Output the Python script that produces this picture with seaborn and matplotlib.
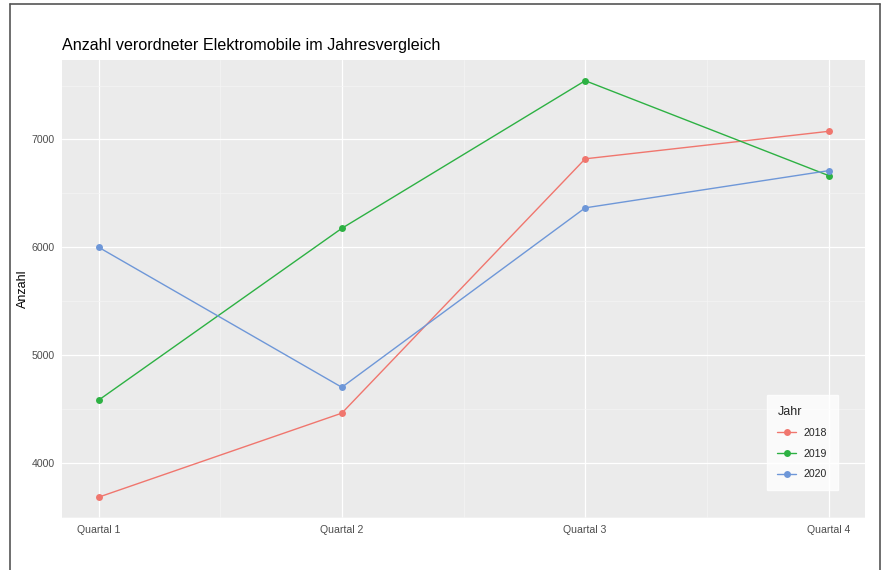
import matplotlib
matplotlib.use("Agg")
import matplotlib.pyplot as plt
import seaborn as sns
import pandas as pd
from matplotlib.lines import Line2D
from matplotlib.ticker import MultipleLocator

# data
quartale = ["Quartal 1", "Quartal 2", "Quartal 3", "Quartal 4"]
jahre = ["2018", "2019", "2020"]
werte_2018 = [3680, 4460, 6820, 7075]
werte_2019 = [4580, 6175, 7545, 6665]
werte_2020 = [6000, 4700, 6365, 6710]
farben = ["#F0766E", "#2DB143", "#6E97D8"]

df = pd.DataFrame({
    "Quartal": quartale * 3,
    "Jahr": [j for j in jahre for _ in quartale],
    "Anzahl": werte_2018 + werte_2019 + werte_2020,
})

sns.set_theme(style="darkgrid", rc={"axes.facecolor": "#EBEBEB", "grid.color": "white"})
plt.rcParams["font.family"] = ["Liberation Sans", "DejaVu Sans"]

fig = plt.figure(figsize=(8.83, 5.70), dpi=100)
ax = fig.add_axes([62 / 883, 1 - 518 / 570, 803 / 883, 458 / 570])

sns.lineplot(data=df, x="Quartal", y="Anzahl", hue="Jahr", palette=farben,
             marker="o", markersize=5, markeredgewidth=0, linewidth=1.0,
             sort=False, ax=ax)

ax.set_xlim(-0.15, 3.15)
ax.set_ylim(3487, 7737)
ax.yaxis.set_major_locator(MultipleLocator(1000))
ax.yaxis.set_minor_locator(MultipleLocator(500))
ax.xaxis.set_minor_locator(MultipleLocator(0.5))
ax.grid(which="major", color="white", linewidth=0.9)
ax.grid(which="minor", color="#F5F5F5", linewidth=0.5)
for s in ax.spines.values():
    s.set_visible(False)
ax.tick_params(axis="both", which="major", length=3, width=0.8, color="#444444",
               labelsize=7.6, labelcolor="#4D4D4D", pad=2)
ax.tick_params(axis="both", which="minor", length=0)
ax.set_xlabel("")
ax.set_ylabel("Anzahl", fontsize=9, color="black", labelpad=2)
ax.set_title("Anzahl verordneter Elektromobile im Jahresvergleich", loc="left",
             fontsize=11.6, color="black", pad=7)

leg = ax.legend(title="Jahr", loc="lower right", bbox_to_anchor=(0.9726, 0.05),
                fontsize=7.6, title_fontsize=9, frameon=True, fancybox=False,
                handlelength=1.8, labelspacing=1.0, borderpad=1.0, handletextpad=0.7)
leg.get_frame().set_facecolor("white")
leg.get_frame().set_edgecolor("white")
leg._legend_box.align = "left"

# outer frame lines of the screenshot
rahmen = "#555555"
fig.add_artist(Line2D([10 / 883, 880 / 883], [1 - 4 / 570, 1 - 4 / 570], color=rahmen, lw=1.2))
fig.add_artist(Line2D([10 / 883, 10 / 883], [0, 1 - 4 / 570], color=rahmen, lw=1.2))
fig.add_artist(Line2D([880 / 883, 880 / 883], [0, 1 - 4 / 570], color=rahmen, lw=1.2))

fig.savefig("out.png", dpi=100)
